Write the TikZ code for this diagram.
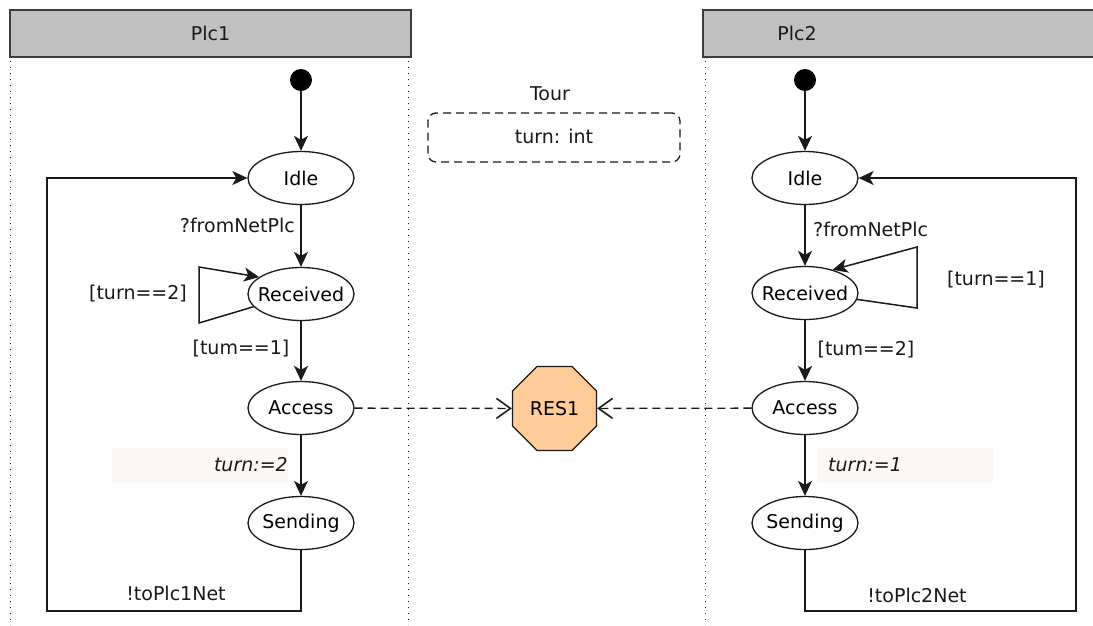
\documentclass[tikz,border=0pt]{standalone}
\usepackage{fontspec}
\setmainfont{DejaVu Sans}
\usetikzlibrary{shapes.geometric,arrows.meta}
\definecolor{hdr}{HTML}{C0C0C0}
\definecolor{ln}{HTML}{1A1A1A}
\definecolor{resfill}{HTML}{FFCC99}
\definecolor{hl}{HTML}{FDF8F6}
\begin{document}
\begin{tikzpicture}[x=1pt,y=-1pt,
  font=\fontsize{19}{22}\selectfont,
  st/.style={ellipse,draw=ln,line width=1.3pt,minimum width=106pt,minimum height=53pt,inner xsep=-10pt,inner ysep=0pt},
  hdrbox/.style={draw=ln!85,fill=hdr,line width=1.6pt,minimum height=47pt,inner sep=0pt},
  life/.style={draw=ln,line width=1pt,dash pattern=on 1.2pt off 4.8pt},
  arr/.style={draw=ln,line width=1.5pt,-{Stealth[length=15pt,width=14pt,inset=4pt]}},
  dasharr/.style={draw=ln,line width=1.3pt,dash pattern=on 8pt off 5pt,-{Straight Barb[length=14pt,width=20pt,line width=1.6pt]}},
  lbl/.style={inner sep=0pt,text=black!90},
  initdot/.style={circle,fill=black,minimum size=22pt,inner sep=0pt}
]
\useasboundingbox (0,0) rectangle (1093,625);
\fill[white] (0,0) rectangle (1093,625);

% headers
\node[hdrbox,minimum width=401pt] (h1) at (210.5,33.5) {};
\node[lbl] (h1t) at (210.5,33) {Plc1};
\node[hdrbox,minimum width=420pt] (h2) at (913,33.5) {};
\node[lbl] (h2t) at (797,33) {Plc2};

% lifelines
\draw[life] (10,61) -- (10,625);
\draw[life] (408,61) -- (408,625);
\draw[life] (705,61) -- (705,625);

% Tour
\node[lbl] (tour) at (550,94) {Tour};
\node[draw=ln,line width=1.3pt,dash pattern=on 8pt off 5pt,rounded corners=8pt,
      minimum width=252pt,minimum height=49pt,inner sep=0pt] (tourbox) at (554,137.5) {};
\node[lbl] (tourtxt) at (554,136) {turn: int};

% highlights
\fill[hl] (112,448) rectangle (288,483);
\fill[hl] (817,448) rectangle (993,483);

% Plc1 states
\node[initdot] (i1) at (301,80) {};
\node[st] (idle1) at (301,178) {Idle};
\node[st] (rec1) at (301,294) {Received};
\node[st] (acc1) at (301,408) {Access};
\node[st] (send1) at (301,523) {Sending};

% Plc2 states
\node[initdot] (i2) at (805,80) {};
\node[st] (idle2) at (805,178) {Idle};
\node[st] (rec2) at (805,293) {Received};
\node[st] (acc2) at (805,408) {Access};
\node[st] (send2) at (805,523) {Sending};

% RES1
\node[regular polygon,regular polygon sides=8,draw=ln,fill=resfill,line width=1.3pt,
      minimum size=91pt,inner sep=0pt] (res) at (554.5,408.5) {RES1};

% Plc1 transitions
\draw[arr] (i1) -- (idle1);
\draw[arr] (idle1) -- (rec1);
\draw[arr] (rec1) -- (acc1);
\draw[arr] (acc1) -- (send1);
\draw[arr] (rec1.195) -- (199,323) -- (199,267) -- (rec1.158);
\draw[arr] (send1.south) |- (47,611) |- (idle1.west);

% Plc2 transitions
\draw[arr] (i2) -- (idle2);
\draw[arr] (idle2) -- (rec2);
\draw[arr] (rec2) -- (acc2);
\draw[arr] (acc2) -- (send2);
\draw[arr] (rec2.353) -- (917,308) -- (917,247) -- (rec2.40);
\draw[arr] (send2.south) |- (1076,611) |- (idle2.east);

% dependencies
\draw[dasharr] (acc1) -- (res);
\draw[dasharr] (acc2) -- (res);

% labels
\node[lbl,anchor=east] (l1) at (295,225) {?fromNetPlc};
\node[lbl,anchor=west] (l2) at (813,229) {?fromNetPlc};
\node[lbl] (l3) at (138,294) {[turn==2]};
\node[lbl] (l4) at (996,280) {[turn==1]};
\node[lbl] (l5) at (241,349) {[tum==1]};
\node[lbl] (l6) at (866,350) {[tum==2]};
\node[lbl,anchor=east] (l7) at (288,465) {\itshape turn:=2};
\node[lbl,anchor=west] (l8) at (828,465) {\itshape turn:=1};
\node[lbl] (l9) at (176,593) {!toPlc1Net};
\node[lbl] (l10) at (917,595) {!toPlc2Net};
\end{tikzpicture}
\end{document}
